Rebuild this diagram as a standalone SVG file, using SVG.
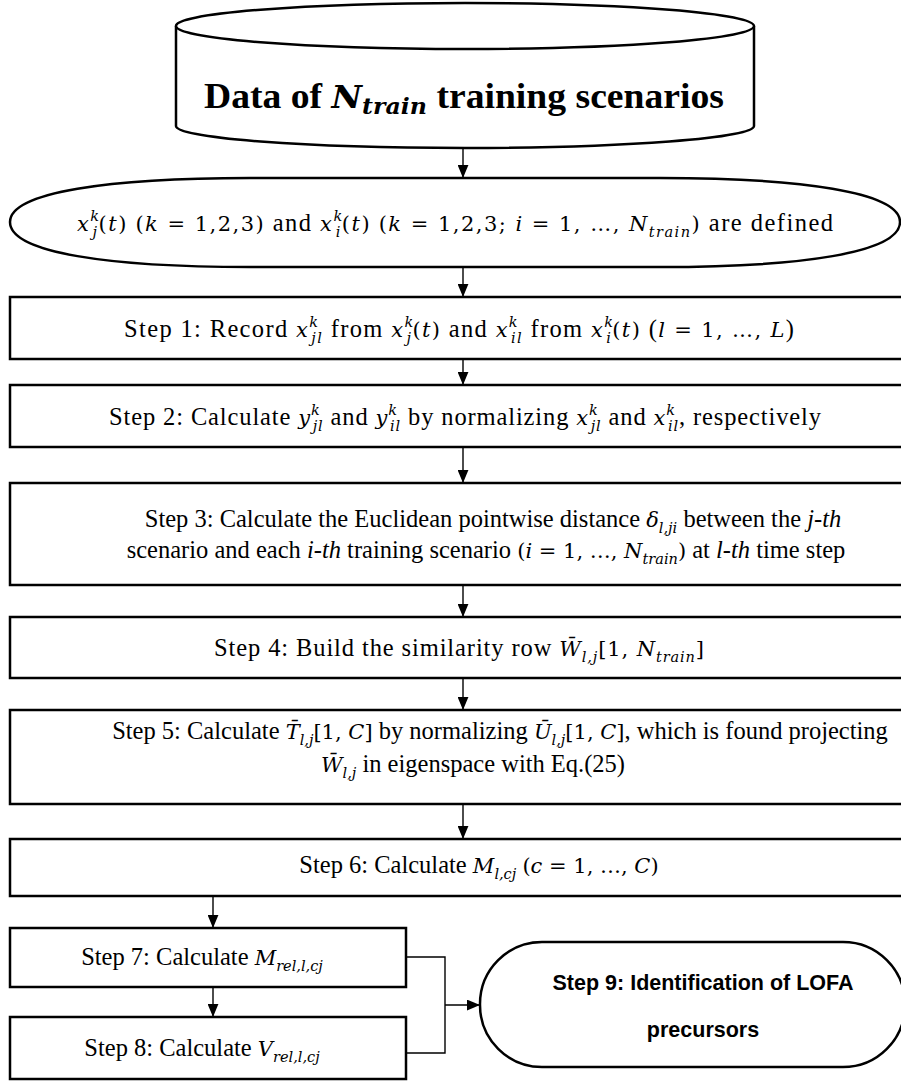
<svg xmlns="http://www.w3.org/2000/svg" width="901" height="1082" viewBox="0 0 901 1082">
<defs>
<style>
.box{fill:#fff;stroke:#000;stroke-width:2.5}
.ln{fill:none;stroke:#000;stroke-width:1.4}
.t{font-family:"Liberation Serif","Times New Roman",serif;font-size:24.5px;fill:#000}
.m{font-family:"DejaVu Serif","Liberation Serif",serif;font-style:italic;font-size:21px}
.n{font-family:"DejaVu Serif","Liberation Serif",serif;font-size:21px}
.s{font-family:"DejaVu Serif","Liberation Serif",serif;font-style:italic;font-size:14.5px}
.b{font-family:"Liberation Sans",Arial,sans-serif;font-weight:bold;font-size:21.5px;fill:#000}
.h{font-family:"Liberation Serif","Times New Roman",serif;font-weight:bold;font-size:35px;fill:#000}
</style>
<marker id="ah" viewBox="0 0 12 10" refX="12" refY="5" markerWidth="13" markerHeight="11" markerUnits="userSpaceOnUse" orient="auto"><path d="M0,0 L12,5 L0,10 Z" fill="#000"/></marker>
</defs>
<rect width="901" height="1082" fill="#fff"/>

<g id="connectors">
<path class="ln" d="M463,148 L463,178" marker-end="url(#ah)"/>
<path class="ln" d="M463,267 L463,297" marker-end="url(#ah)"/>
<path class="ln" d="M463,359 L463,385" marker-end="url(#ah)"/>
<path class="ln" d="M463,447 L463,483" marker-end="url(#ah)"/>
<path class="ln" d="M463,585 L463,617" marker-end="url(#ah)"/>
<path class="ln" d="M463,678 L463,710" marker-end="url(#ah)"/>
<path class="ln" d="M463,804 L463,839" marker-end="url(#ah)"/>
<path class="ln" d="M213,896 L213,928" marker-end="url(#ah)"/>
<path class="ln" d="M213,987 L213,1017" marker-end="url(#ah)"/>
<path class="ln" d="M406,957 H445 V1053 H406"/>
<path class="ln" d="M445,1005 L480,1005" marker-end="url(#ah)"/>
</g>

<g id="data">
<path class="box" d="M176,26 L176,126 A289,22 0 0,0 754,126 L754,26"/>
<ellipse class="box" cx="465" cy="26" rx="289" ry="23"/>
<text class="h" x="464" y="108" text-anchor="middle" textLength="520" lengthAdjust="spacingAndGlyphs">Data of <tspan font-family="DejaVu Serif" font-style="italic" font-size="31">N</tspan><tspan font-family="DejaVu Serif" font-style="italic" font-size="22" dy="6">train</tspan><tspan dy="-6"> training scenarios</tspan></text>
</g>

<g id="define">
<path class="box" d="M10,222 C10,192 110,178 250,178 L660,178 C800,178 900,192 900,222 C900,253 800,267 660,267 L250,267 C110,267 10,253 10,222 Z"/>
<text class="t" x="455" y="231" text-anchor="middle" textLength="756" lengthAdjust="spacing"><tspan class="m">x</tspan><tspan class="s" dy="-10">k</tspan><tspan class="s" dx="-8" dy="16">j</tspan><tspan class="n" dy="-6">(</tspan><tspan class="m">t</tspan><tspan class="n">)</tspan> <tspan class="n">(</tspan><tspan class="m">k</tspan><tspan class="n"> = 1,2,3)</tspan> and <tspan class="m">x</tspan><tspan class="s" dy="-10">k</tspan><tspan class="s" dx="-8" dy="16">i</tspan><tspan class="n" dy="-6">(</tspan><tspan class="m">t</tspan><tspan class="n">)</tspan> <tspan class="n">(</tspan><tspan class="m">k</tspan><tspan class="n"> = 1,2,3; </tspan><tspan class="m">i</tspan><tspan class="n"> = 1, …, </tspan><tspan class="m">N</tspan><tspan class="s" dy="6">train</tspan><tspan class="n" dy="-6">)</tspan> are defined</text>
</g>

<g id="step1">
<rect class="box" x="10" y="297" width="915" height="62"/>
<text class="t" x="459" y="337" text-anchor="middle" textLength="670" lengthAdjust="spacing">Step 1: Record <tspan class="m">x</tspan><tspan class="s" dy="-10">k</tspan><tspan class="s" dx="-8" dy="16">jl</tspan><tspan dy="-6"> from </tspan><tspan class="m">x</tspan><tspan class="s" dy="-10">k</tspan><tspan class="s" dx="-8" dy="16">j</tspan><tspan class="n" dy="-6">(</tspan><tspan class="m">t</tspan><tspan class="n">)</tspan> and <tspan class="m">x</tspan><tspan class="s" dy="-10">k</tspan><tspan class="s" dx="-8" dy="16">il</tspan><tspan dy="-6"> from </tspan><tspan class="m">x</tspan><tspan class="s" dy="-10">k</tspan><tspan class="s" dx="-8" dy="16">i</tspan><tspan class="n" dy="-6">(</tspan><tspan class="m">t</tspan><tspan class="n">)</tspan> (<tspan class="m">l</tspan><tspan class="n"> = 1, …, </tspan><tspan class="m">L</tspan>)</text>
</g>

<g id="step2">
<rect class="box" x="10" y="385" width="915" height="62"/>
<text class="t" x="465" y="425" text-anchor="middle" textLength="712" lengthAdjust="spacing">Step 2: Calculate <tspan class="m">y</tspan><tspan class="s" dy="-10">k</tspan><tspan class="s" dx="-8" dy="16">jl</tspan><tspan dy="-6"> and </tspan><tspan class="m">y</tspan><tspan class="s" dy="-10">k</tspan><tspan class="s" dx="-8" dy="16">il</tspan><tspan dy="-6"> by normalizing </tspan><tspan class="m">x</tspan><tspan class="s" dy="-10">k</tspan><tspan class="s" dx="-8" dy="16">jl</tspan><tspan dy="-6"> and </tspan><tspan class="m">x</tspan><tspan class="s" dy="-10">k</tspan><tspan class="s" dx="-8" dy="16">il</tspan><tspan dy="-6">, respectively</tspan></text>
</g>

<g id="step3">
<rect class="box" x="10" y="483" width="915" height="102"/>
<text class="t" x="493" y="527" text-anchor="middle">Step 3: Calculate the Euclidean pointwise distance <tspan class="m">δ</tspan><tspan class="s" dy="6">l,ji</tspan><tspan dy="-6"> between the </tspan><tspan font-style="italic">j-th</tspan></text>
<text class="t" x="486" y="558" text-anchor="middle">scenario and each <tspan font-style="italic">i-th</tspan> training scenario <tspan class="n">(</tspan><tspan class="m">i</tspan><tspan class="n"> = 1, …, </tspan><tspan class="m">N</tspan><tspan class="s" dy="6">train</tspan><tspan class="n" dy="-6">)</tspan> at <tspan font-style="italic">l-th</tspan> time step</text>
</g>

<g id="step4">
<rect class="box" x="10" y="617" width="915" height="61"/>
<text class="t" x="459" y="656" text-anchor="middle" textLength="490" lengthAdjust="spacing">Step 4: Build the similarity row <tspan class="m">W&#x304;</tspan><tspan class="s" dy="6">l,j</tspan><tspan class="n" dy="-6">[1, </tspan><tspan class="m">N</tspan><tspan class="s" dy="6">train</tspan><tspan class="n" dy="-6">]</tspan></text>
</g>

<g id="step5">
<rect class="box" x="10" y="710" width="915" height="94"/>
<text class="t" x="500" y="739" text-anchor="middle">Step 5: Calculate <tspan class="m">T&#x304;</tspan><tspan class="s" dy="6">l,j</tspan><tspan class="n" dy="-6">[1, </tspan><tspan class="m">C</tspan><tspan class="n">]</tspan> by normalizing <tspan class="m">U&#x304;</tspan><tspan class="s" dy="6">l,j</tspan><tspan class="n" dy="-6">[1, </tspan><tspan class="m">C</tspan><tspan class="n">]</tspan>, which is found projecting</text>
<text class="t" x="473" y="772" text-anchor="middle"><tspan class="m">W&#x304;</tspan><tspan class="s" dy="6">l,j</tspan><tspan dy="-6"> in eigenspace with Eq.(25)</tspan></text>
</g>

<g id="step6">
<rect class="box" x="10" y="839" width="915" height="57"/>
<text class="t" x="479" y="873" text-anchor="middle">Step 6: Calculate <tspan class="m">M</tspan><tspan class="s" dy="6">l,cj</tspan><tspan dy="-6"> </tspan><tspan class="n">(</tspan><tspan class="m">c</tspan><tspan class="n"> = 1, …, </tspan><tspan class="m">C</tspan><tspan class="n">)</tspan></text>
</g>

<g id="step7">
<rect class="box" x="10" y="928" width="396" height="59"/>
<text class="t" x="202" y="965" text-anchor="middle">Step 7: Calculate <tspan class="m">M</tspan><tspan class="s" dy="6">rel,l,cj</tspan></text>
</g>

<g id="step8">
<rect class="box" x="10" y="1017" width="396" height="62"/>
<text class="t" x="202" y="1056" text-anchor="middle">Step 8: Calculate <tspan class="m">V</tspan><tspan class="s" dy="6">rel,l,cj</tspan></text>
</g>

<g id="step9">
<rect class="box" x="480" y="942" width="425" height="125" rx="62" ry="62"/>
<text class="b" text-anchor="middle" x="703" y="990">Step 9: Identification of LOFA</text>
<text class="b" text-anchor="middle" x="703" y="1037">precursors</text>
</g>
</svg>
